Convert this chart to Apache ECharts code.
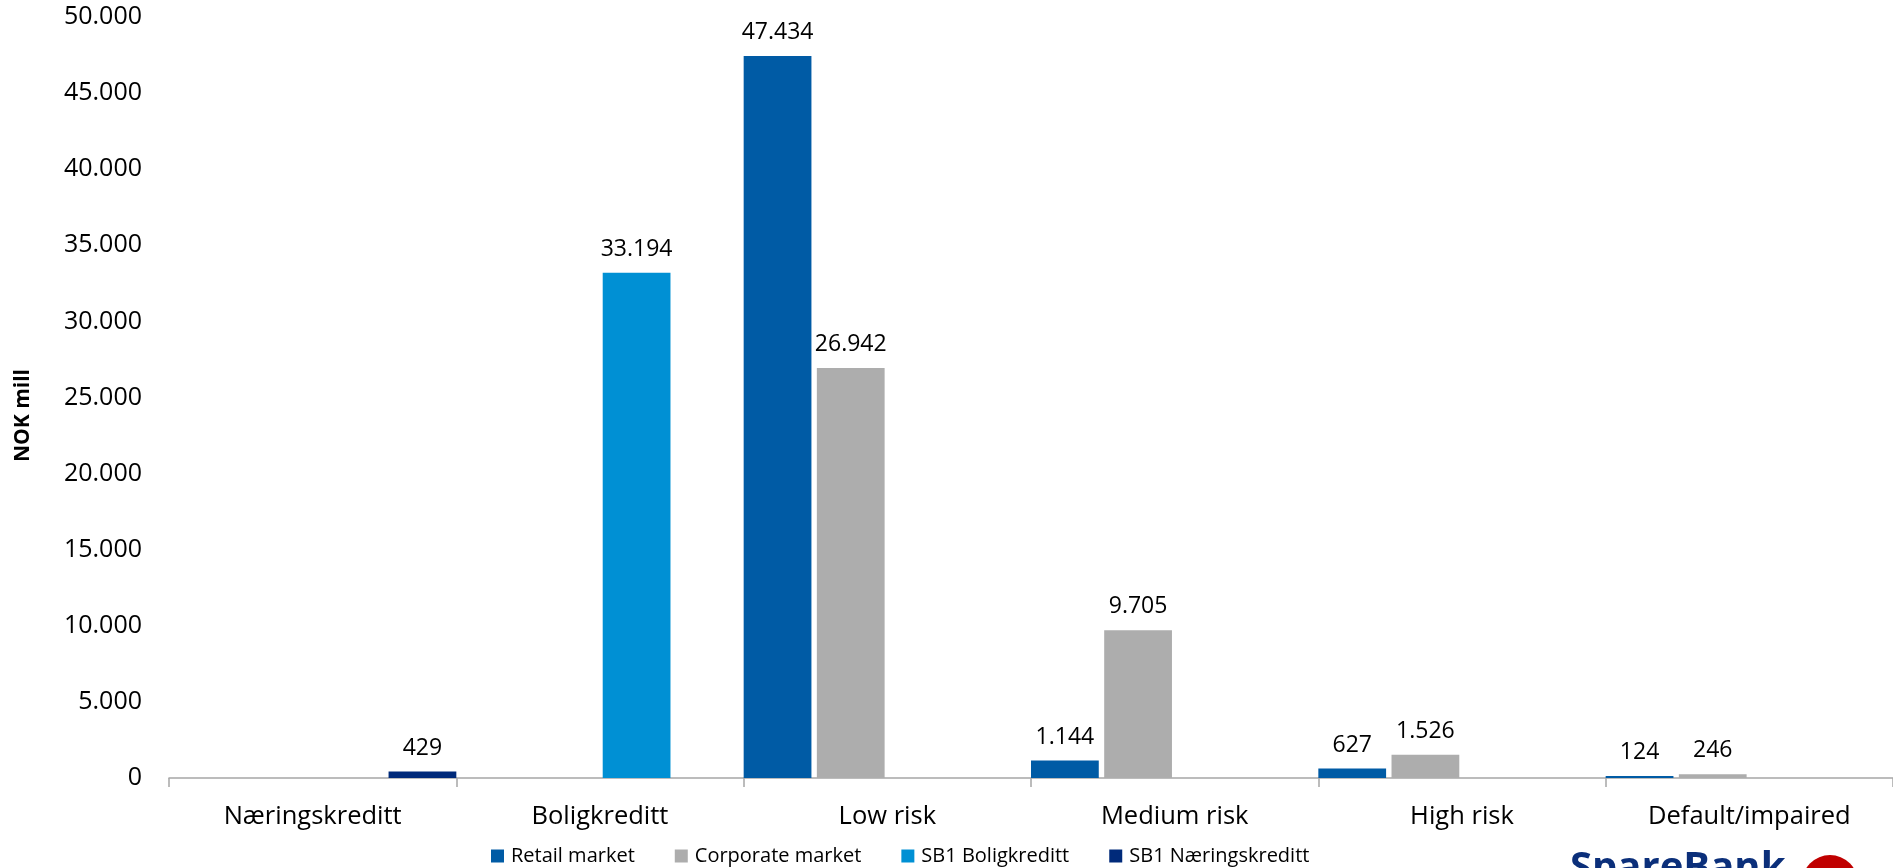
<!DOCTYPE html>
<html>
<head>
<meta charset="utf-8">
<script src="https://cdn.jsdelivr.net/npm/echarts@6/dist/echarts.min.js"></script>
<style>
html,body{margin:0;padding:0;background:#fff;}
#chart{width:1893px;height:868px;}
</style>
</head>
<body>
<div id="chart"></div>
<script>
const categories = ['Næringskreditt', 'Boligkreditt', 'Low risk', 'Medium risk', 'High risk', 'Default/impaired'];
const retailMarket = [null, null, 47434, 1144, 627, 124];
const corporateMarket = [null, null, 26942, 9705, 1526, 246];
const sb1Boligkreditt = [null, 33194, null, null, null, null];
const sb1Naeringskreditt = [429, null, null, null, null, null];
const seriesNames = ['Retail market', 'Corporate market', 'SB1 Boligkreditt', 'SB1 Næringskreditt'];
const seriesColors = ['#005ba5', '#adadad', '#0090d4', '#002a7a'];
const yAxisName = 'NOK mill';

const FONT = '"Open Sans", "Liberation Sans", sans-serif';
function fmt(v) {
  return String(Math.round(v)).replace(/\B(?=(\d{3})+(?!\d))/g, '.');
}

const chart = echarts.init(document.getElementById('chart'));
const seriesData = [retailMarket, corporateMarket, sb1Boligkreditt, sb1Naeringskreditt];

chart.setOption({
  animation: false,
  backgroundColor: '#ffffff',
  grid: { left: 169, right: -6, top: 17, bottom: 90, containLabel: false },
  legend: {
    left: 491,
    top: 846,
    padding: 0,
    itemWidth: 13,
    itemHeight: 13,
    itemGap: 40,
    icon: 'rect',
    textStyle: { fontFamily: FONT, fontSize: 20, color: '#000', padding: [0, 0, 0, 2] },
    data: seriesNames
  },
  xAxis: {
    type: 'category',
    data: categories,
    axisLine: { lineStyle: { color: '#a6a6a6', width: 1.5 } },
    axisTick: { show: true, alignWithLabel: false, length: 9, lineStyle: { color: '#a6a6a6', width: 1.5 } },
    axisLabel: { fontFamily: FONT, fontSize: 25.5, color: '#000', margin: 26, interval: 0 }
  },
  yAxis: {
    type: 'value',
    min: 0,
    max: 50000,
    interval: 5000,
    axisLine: { show: false },
    axisTick: { show: false },
    splitLine: { show: false },
    axisLabel: { fontFamily: FONT, fontSize: 25, color: '#000', margin: 27, formatter: fmt }
  },
  graphic: [
    {
      type: 'text',
      x: 23.5,
      y: 415.5,
      rotation: Math.PI / 2,
      style: { text: yAxisName, fontFamily: FONT, fontSize: 21, fontWeight: 'bold', fill: '#000', align: 'center', verticalAlign: 'middle' }
    },
    {
      type: 'text',
      x: 1570,
      y: 849,
      style: { text: 'SpareBank', fontFamily: FONT, fontSize: 40, fontWeight: 'bold', fill: '#0b2f7a', align: 'left', verticalAlign: 'top' }
    },
    {
      type: 'circle',
      shape: { cx: 1830, cy: 883, r: 28 },
      style: { fill: '#c00000' }
    }
  ],
  series: seriesNames.map((name, i) => ({
    name: name,
    type: 'bar',
    data: seriesData[i],
    barGap: '8%',
    barCategoryGap: 0,
    itemStyle: { color: seriesColors[i] },
    label: {
      show: true,
      position: 'top',
      distance: 12,
      fontFamily: FONT,
      fontSize: 23,
      color: '#000',
      formatter: p => (p.value == null ? '' : fmt(p.value))
    }
  }))
});
</script>
</body>
</html>
